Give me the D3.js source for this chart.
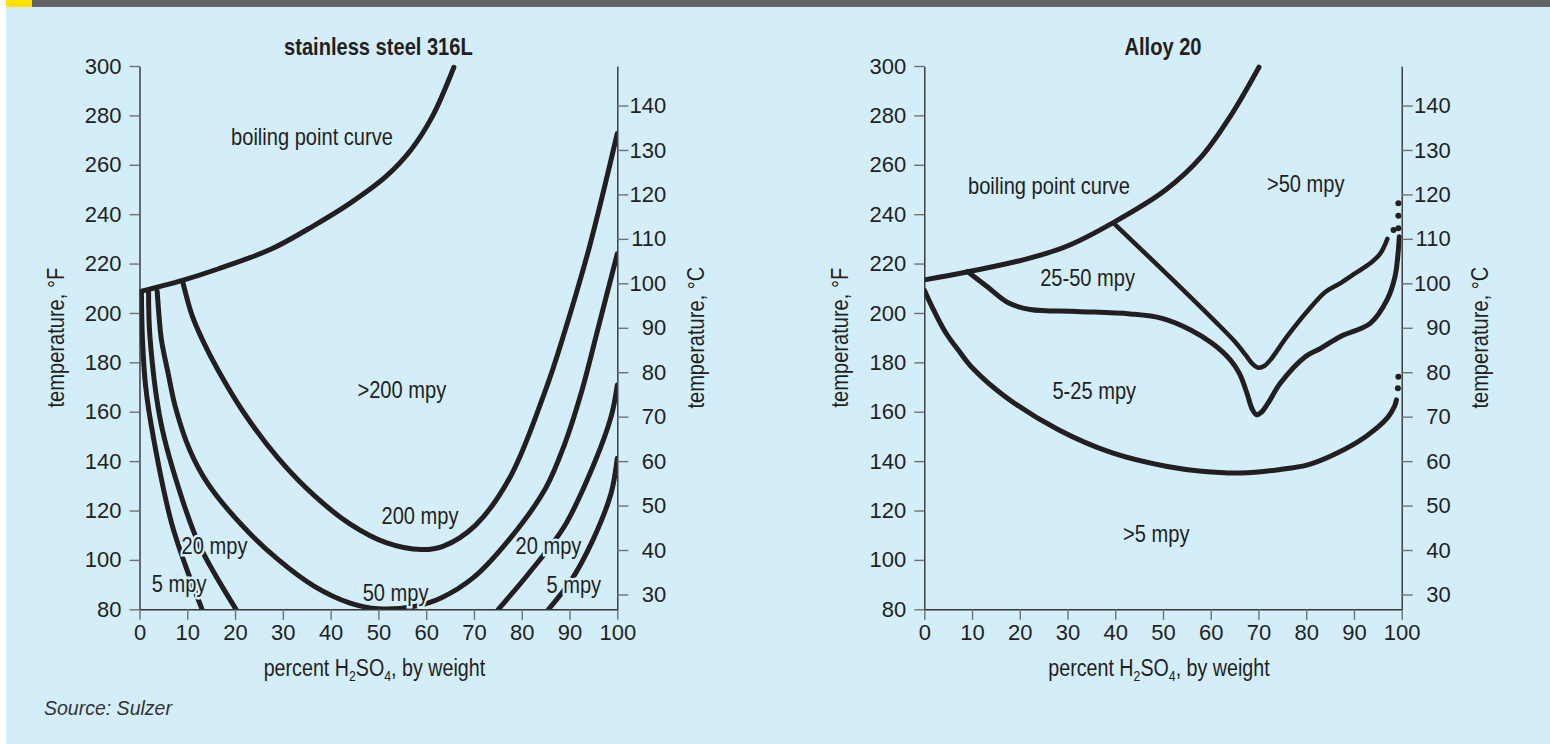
<!DOCTYPE html>
<html>
<head>
<meta charset="utf-8">
<script src="https://cdn.jsdelivr.net/npm/d3@7"></script>
<style>
  html, body { margin: 0; padding: 0; background: #ffffff; }
  svg { display: block; }
</style>
</head>
<body>
<svg id="chart" width="1550" height="744"></svg>
<script>
// ---------------- DATA ----------------
const PERCENT_TICKS = [0, 10, 20, 30, 40, 50, 60, 70, 80, 90, 100];
const F_TICKS = [80, 100, 120, 140, 160, 180, 200, 220, 240, 260, 280, 300];
const C_TICKS = [30, 40, 50, 60, 70, 80, 90, 100, 110, 120, 130, 140];

// Stainless steel 316L  [percent H2SO4, temperature °F]
const SS_BOILING = [[0,208.6],[9,213.2],[16.4,217.8],[27.7,226],[36.6,235.5],[44.1,244.5],[51.6,255.3],[56.8,266],[61.3,279.6],[65.8,299.5]];
const SS_5_LEFT  = [[0.4,208.5],[0.6,190],[1.3,170],[3,148.6],[6.7,115],[9.7,97.3],[13.1,80]];
const SS_20_LEFT = [[1.9,208.7],[2.2,190],[4.5,155.3],[9,124.2],[12.7,105.3],[20.2,80]];
const SS_50      = [[3.7,208.8],[4.1,198.5],[4.6,189],[6,175.5],[7.5,162],[10.5,144.6],[14.2,131.2],[21.7,113.5],[29.1,100],[36.6,89.3],[44.1,82.5],[50,80.2],[57.5,81.2],[63,84.5],[70,93],[77.7,109],[85,129],[89,147],[92.5,168],[96,194],[100,224]];
const SS_200     = [[9,213],[11,199],[13.2,189],[16.4,177],[21.7,160],[29.1,141],[36.6,126],[44.1,114.5],[51.6,107],[59,104.2],[63.5,105.5],[70.3,114],[77.7,134],[85.2,170],[88.6,190],[94.2,227],[100,272.7]];
const SS_20_RIGHT = [[75.1,80],[81.5,94.6],[88.9,113.5],[94.9,137.8],[98.7,158],[100,170.8]];
const SS_5_RIGHT  = [[85.6,80],[90.4,91.9],[94.9,108.1],[98.7,127],[100,141.2]];
const SS_LABELS = [
  {text: "boiling point curve", p: 36.1, f: 271.3},
  {text: ">200 mpy", p: 54.9, f: 169.2},
  {text: "200 mpy", p: 58.7, f: 118.2},
  {text: "20 mpy", p: 15.7, f: 106},
  {text: "5 mpy", p: 8.3, f: 90.5},
  {text: "50 mpy", p: 53.6, f: 86.9},
  {text: "20 mpy", p: 85.6, f: 106},
  {text: "5 mpy", p: 90.9, f: 90.2}
];

// Alloy 20
const A20_BOILING = [[0,213.4],[9.4,216.8],[20.7,221.5],[29.7,226.9],[39.4,236.4],[50.6,249.9],[58.1,263.4],[64.1,279.6],[70.1,299.5]];
const A20_UPPER   = [[39.7,236.3],[52,213.5],[62,194.5],[65,188.5],[67.3,183],[68.8,179.3],[70,177.8],[71.2,178.5],[72.5,181],[76,190.5],[80.5,201.3],[84,208.5],[87.1,212],[90.3,216.1],[93.4,220.1],[95.5,224],[97,230]];
const A20_LOWER   = [[9.1,216.7],[13.2,210.6],[17.7,204],[22.2,201.4],[31.9,200.6],[43.1,199.6],[49.8,197.8],[55.8,193.1],[60.3,187.7],[64.1,181],[66,175.5],[67.5,168],[68.7,161],[69.6,158.8],[70.6,159.8],[72,163.5],[74.6,171.6],[79.8,182.3],[82.9,185.5],[87.1,190.4],[93.4,195.8],[96.9,205.2],[98.6,214.7],[99.3,225.5],[99.5,230.9]];
const A20_BOTTOM  = [[0,209.3],[2,201],[4.5,192],[7.5,184],[10.2,177.5],[16.9,166.2],[28.1,152.7],[39.4,143.3],[50.6,137.9],[58.1,135.9],[66.3,135.2],[74.6,136.6],[80.5,138.6],[86.5,143.3],[92.5,150],[97,157.5],[98.5,162.2],[98.9,164.8]];
const A20_DOTS    = [[98.3,233.6],[99.3,234.3],[99.3,239.4],[99.3,244.4],[99.2,169.5],[99.3,174.2]];
const A20_LABELS = [
  {text: "boiling point curve", p: 26.1, f: 251.8},
  {text: ">50 mpy", p: 79.9, f: 252.6},
  {text: "25-50 mpy", p: 34.2, f: 214.2},
  {text: "5-25 mpy", p: 35.6, f: 168.8},
  {text: ">5 mpy", p: 48.6, f: 110.9}
];

// ---------------- DRAW ----------------
const BG = "#d3eef9";
const INK = "#231f20";
const FONT = "'Liberation Sans', Arial, 'DejaVu Sans', sans-serif";
const SQUEEZE = 0.82;   // condensed look of the original typeface
const svg = d3.select("#chart");

svg.append("rect").attr("x", 0).attr("y", 0).attr("width", 1550).attr("height", 744).attr("fill", "#ffffff");
svg.append("rect").attr("x", 6).attr("y", 7).attr("width", 1544).attr("height", 737).attr("fill", BG);
svg.append("rect").attr("x", 6).attr("y", 0).attr("width", 1544).attr("height", 7).attr("fill", "#636366");
svg.append("rect").attr("x", 6).attr("y", 0).attr("width", 26).attr("height", 7).attr("fill", "#ffe100");

const toC = f => (f - 32) / 1.8;

function condText(parent, x, y, size, rotate) {
  return parent.append("text")
    .attr("transform", `translate(${x},${y})${rotate ? " rotate(" + rotate + ")" : ""} scale(${SQUEEZE},1)`)
    .attr("dy", "0.35em").attr("text-anchor", "middle")
    .attr("font-family", FONT).attr("font-size", size).attr("fill", INK);
}

function drawChart(cfg) {
  const {x0, x1, id, title, curves, labels, dots} = cfg;
  const yTop = 66, yBot = 609.3;
  const x = d3.scaleLinear().domain([0, 100]).range([x0, x1]);
  const yF = d3.scaleLinear().domain([80, 300]).range([yBot, yTop]);
  const yC = d3.scaleLinear().domain([toC(80), toC(300)]).range([yBot, yTop]);
  const g = svg.append("g");

  svg.append("clipPath").attr("id", "clip-" + id)
    .append("rect").attr("x", x0).attr("y", yTop - 10).attr("width", x1 - x0).attr("height", yBot - yTop + 10);

  const line = d3.line().x(d => x(d[0])).y(d => yF(d[1])).curve(d3.curveCatmullRom.alpha(0.5));

  const cg = g.append("g").attr("clip-path", `url(#clip-${id})`);
  curves.forEach(c => {
    cg.append("path").attr("d", line(c.data))
      .attr("fill", "none").attr("stroke", INK)
      .attr("stroke-width", c.w || 5).attr("stroke-linecap", "round").attr("stroke-linejoin", "round");
  });
  if (dots) {
    g.selectAll("circle.dot").data(dots).enter().append("circle")
      .attr("cx", d => x(d[0])).attr("cy", d => yF(d[1])).attr("r", 3).attr("fill", INK);
  }

  // axes
  const styleAxis = (sel) => {
    sel.select(".domain").attr("stroke", "#333333").attr("stroke-width", 1.4);
    sel.selectAll(".tick line").attr("stroke", "#707070").attr("stroke-width", 1.4);
    sel.selectAll(".tick text").attr("fill", INK).attr("font-family", FONT).attr("font-size", 22);
  };
  const ax = g.append("g").attr("transform", `translate(0,${yBot})`)
    .call(d3.axisBottom(x).tickValues(PERCENT_TICKS).tickSize(10.5).tickSizeOuter(0).tickPadding(5));
  styleAxis(ax);
  const ayl = g.append("g").attr("transform", `translate(${x0},0)`)
    .call(d3.axisLeft(yF).tickValues(F_TICKS).tickSize(10).tickSizeOuter(0).tickPadding(8));
  styleAxis(ayl);
  const ayr = g.append("g").attr("transform", `translate(${x1},0)`)
    .call(d3.axisRight(yC).tickValues(C_TICKS).tickSize(11).tickSizeOuter(0));
  styleAxis(ayr);
  ayr.selectAll(".tick text").attr("text-anchor", "end").attr("x", 49);

  // titles
  condText(g, (x0 + x1) / 2, 46, 24.5).attr("font-weight", "bold").text(title);

  const xt = condText(g, (x0 + x1) / 2 - 4, 668, 24);
  xt.append("tspan").text("percent H");
  xt.append("tspan").attr("font-size", 15).attr("dy", 5).text("2");
  xt.append("tspan").attr("dy", -5).text("SO");
  xt.append("tspan").attr("font-size", 15).attr("dy", 5).text("4");
  xt.append("tspan").attr("dy", -5).text(", by weight");

  const yMid = (yTop + yBot) / 2;
  condText(g, x0 - 84.5, yMid, 24.5, -90).text("temperature, °F");
  condText(g, x1 + 78, yMid, 24.5, -90).text("temperature, °C");

  // annotations with background halo
  labels.forEach(d => {
    condText(g, x(d.p), yF(d.f), 24.5)
      .attr("stroke", BG).attr("stroke-width", 5).attr("paint-order", "stroke")
      .text(d.text);
  });
}

drawChart({
  id: "ss", x0: 139.5, x1: 617.3, title: "stainless steel 316L",
  curves: [
    {data: SS_BOILING}, {data: SS_5_LEFT}, {data: SS_20_LEFT}, {data: SS_50},
    {data: SS_200}, {data: SS_20_RIGHT}, {data: SS_5_RIGHT}
  ],
  labels: SS_LABELS
});

drawChart({
  id: "a20", x0: 924.3, x1: 1401.7, title: "Alloy 20",
  curves: [
    {data: A20_BOILING}, {data: A20_UPPER, w: 4.5}, {data: A20_LOWER}, {data: A20_BOTTOM}
  ],
  labels: A20_LABELS, dots: A20_DOTS
});

svg.append("text").attr("x", 44).attr("y", 715)
  .attr("font-family", FONT).attr("font-style", "italic")
  .attr("font-size", 19.5).attr("fill", "#333333").text("Source: Sulzer");
</script>
</body>
</html>
